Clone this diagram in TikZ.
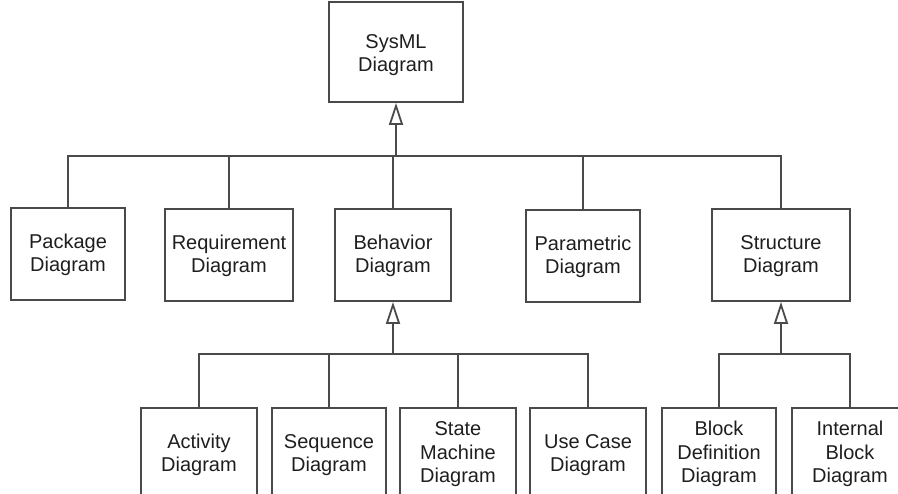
\documentclass[tikz,border=0pt]{standalone}
\usepackage{fontspec}
\setmainfont{Liberation Sans}
\usetikzlibrary{arrows.meta}
\definecolor{linegray}{HTML}{4A4A4A}
\definecolor{textgray}{HTML}{1E1E1E}
% centred multi-line label, lowered by the optional amount
\newcommand\boxlabel[2][2pt]{\lower#1\vbox to0pt{\vss\hbox{\begin{tabular}{@{}c@{}}#2\end{tabular}}\vss}}
\begin{document}
\begin{tikzpicture}[x=1pt,y=-1pt,
  box/.style={draw=linegray, line width=1.8pt, inner sep=0pt,
    font=\fontsize{20}{23.3}\selectfont, text=textgray, minimum height=92pt},
  link/.style={draw=linegray, line width=1.8pt},
  gen/.style={link, -{Triangle[open, length=22pt, width=14pt]}}]
  \clip (0,0) rectangle (898,494);

  % root
  \node[box, minimum width=134pt, minimum height=100pt] (sysml) at (396,52) {\boxlabel[6pt]{SysML\\Diagram}};

  % second level
  \node[box, minimum width=114pt] (pkg) at (68,254) {\boxlabel{Package\\Diagram}};
  \node[box, minimum width=128pt] (req) at (229,255) {\boxlabel{Requirement\\Diagram}};
  \node[box, minimum width=116pt] (beh) at (393,255) {\boxlabel{Behavior\\Diagram}};
  \node[box, minimum width=114pt] (par) at (583,256) {\boxlabel{Parametric\\Diagram}};
  \node[box, minimum width=138pt] (str) at (781,255) {\boxlabel{Structure\\Diagram}};

  % behavior diagrams
  \node[box, minimum width=116pt] (act) at (199,454) {\boxlabel{Activity\\Diagram}};
  \node[box, minimum width=114pt] (seq) at (329,454) {\boxlabel{Sequence\\Diagram}};
  \node[box, minimum width=116pt] (stm) at (458,454) {\boxlabel[1pt]{State\\Machine\\Diagram}};
  \node[box, minimum width=116pt] (uc)  at (588,454) {\boxlabel{Use Case\\Diagram}};

  % structure diagrams
  \node[box, minimum width=114pt] (bdd) at (719,454) {\boxlabel[1pt]{Block\\Definition\\Diagram}};
  \node[box, minimum width=116pt] (ibd) at (850,454) {\boxlabel[1pt]{Internal\\Block\\Diagram}};

  % generalization trees
  \coordinate (bus1) at (396,156);
  \foreach \n in {pkg,req,beh,par,str} \draw[link] (\n.north) |- (bus1);
  \draw[gen] (bus1) -- (sysml.south);

  \coordinate (bus2) at (393,354);
  \foreach \n in {act,seq,stm,uc} \draw[link] (\n.north) |- (bus2);
  \draw[gen] (bus2) -- (beh.south);

  \coordinate (bus3) at (781,354);
  \foreach \n in {bdd,ibd} \draw[link] (\n.north) |- (bus3);
  \draw[gen] (bus3) -- (str.south);
\end{tikzpicture}
\end{document}
